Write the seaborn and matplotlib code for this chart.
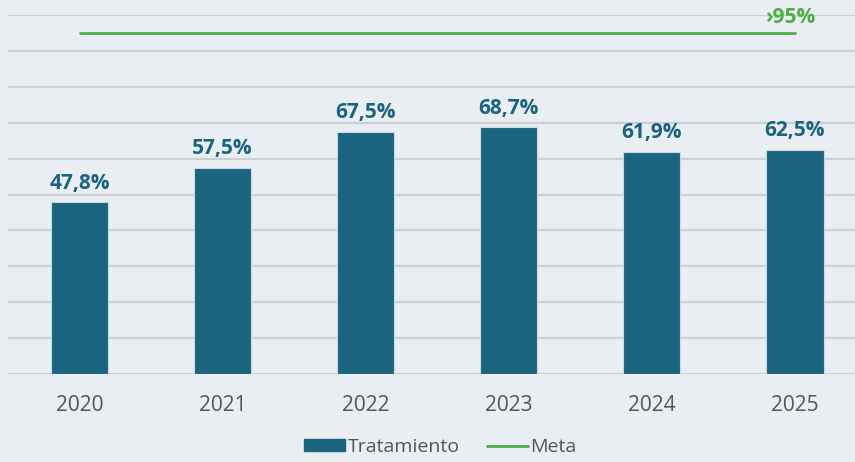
import matplotlib
matplotlib.use("Agg")
import matplotlib.pyplot as plt
import seaborn as sns
import pandas as pd
from matplotlib.patches import Patch
from matplotlib.lines import Line2D

years = ["2020", "2021", "2022", "2023", "2024", "2025"]
tratamiento = [47.8, 57.5, 67.5, 68.7, 61.9, 62.5]
labels = ["47,8%", "57,5%", "67,5%", "68,7%", "61,9%", "62,5%"]
meta = 95
meta_label = "›95%"

bar_color = "#1a6480"
green = "#4caf47"
bg = "#e9eef2"
grid_c = "#cdd0d2"

sns.set_theme(style="white")
plt.rcParams["font.family"] = ["Open Sans", "DejaVu Sans"]

df = pd.DataFrame({"year": years, "val": tratamiento})

fig = plt.figure(figsize=(8.55, 4.62), dpi=100, facecolor=bg)
ax = fig.add_axes([8 / 855, 88 / 462, 1 - 8 / 855, (374 - 15) / 462])
ax.set_facecolor(bg)

sns.barplot(data=df, x="year", y="val", color=bar_color, width=0.4, ax=ax,
            saturation=1, zorder=3, edgecolor="#c9d9e2", linewidth=0.8)

ax.set_ylim(0, 100)
ax.set_xlim(-0.5, 5.42)
ax.set_yticks(range(0, 101, 10))
ax.yaxis.grid(True, color=grid_c, linewidth=1.6, zorder=0)
ax.set_axisbelow(True)
for s in ax.spines.values():
    s.set_visible(False)
ax.tick_params(axis="y", left=False, labelleft=False)
ax.tick_params(axis="x", bottom=False, labelsize=15, labelcolor="#555555", pad=9)
ax.set_xlabel("")
ax.set_ylabel("")

for i, (v, t) in enumerate(zip(tratamiento, labels)):
    ax.text(i, v + 2.4, t, ha="center", va="bottom", fontsize=15,
            fontweight="bold", color=bar_color)

ax.plot([0, len(years) - 1], [meta, meta], color=green, linewidth=2, zorder=4)
ax.text(len(years) - 1 - 0.03, meta + 1.5, meta_label, ha="center", va="bottom",
        fontsize=15, fontweight="bold", color=green, clip_on=False)

handles = [Patch(facecolor=bar_color, edgecolor=bar_color, label="Tratamiento"),
           Line2D([0], [0], color=green, linewidth=2, label="Meta")]
fig.legend(handles=handles, loc="center", bbox_to_anchor=(0.515, 1 - 447 / 462),
           ncol=2, frameon=False, fontsize=14, handlelength=2.1, handleheight=0.55,
           handletextpad=0.15, columnspacing=1.4, labelcolor="#555555")

fig.savefig("out.png", dpi=100, facecolor=bg)
